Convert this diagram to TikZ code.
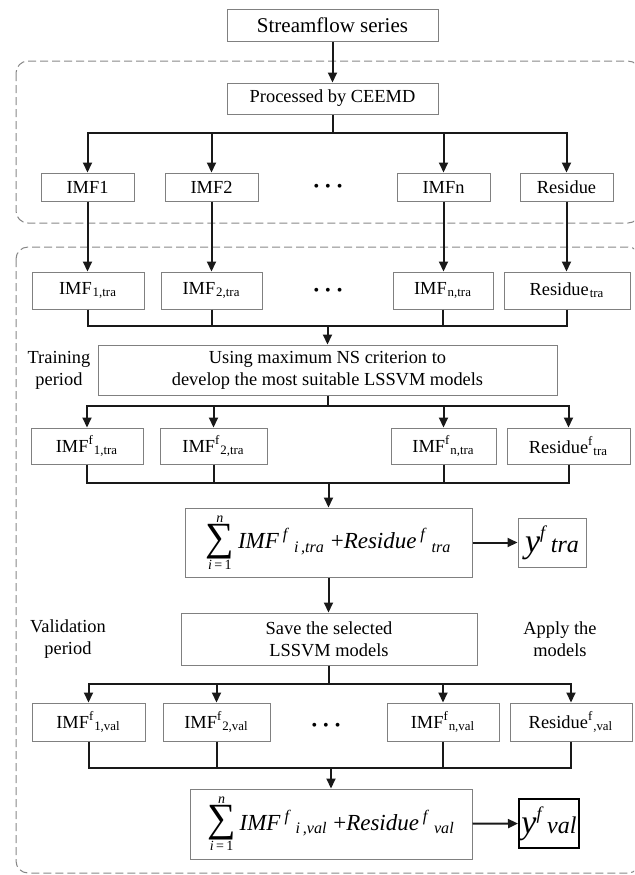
\documentclass[tikz,border=0pt]{standalone}
\usepackage{amsmath}
\usepackage{fontspec}
\setmainfont{Liberation Serif}
\usepackage{tikz}
\usetikzlibrary{arrows.meta,calc}

\definecolor{boxgray}{RGB}{128,128,128}
\definecolor{dashgray}{RGB}{135,135,135}
\definecolor{linkblack}{RGB}{25,25,25}

\newcommand{\imfsub}[3]{#1\textsuperscript{#2}\textsubscript{#3}}
\newcommand{\bigsum}{$\vcenter{\offinterlineskip\halign{\hfil##\hfil\cr
  {\fontsize{7}{8}\selectfont\textit{n}}\cr\noalign{\kern0.8pt}
  {\fontsize{20}{20}\selectfont ∑}\cr\noalign{\kern0.8pt}
  {\fontsize{7}{8}\selectfont\textit{i}\,=\,1}\cr}}$}
\newcommand{\sumterm}[1]{\bigsum\,\textit{IMF}\,\textsuperscript{\textit{f}}\,\textsubscript{\textit{i\,,#1}}\ +\textit{Residue}\,\textsuperscript{\textit{f}}\,\textsubscript{\textit{#1}}}
\newcommand{\yterm}[1]{\textit{\fontsize{17}{17}\selectfont y\raisebox{0.42em}{\fontsize{9}{9}\selectfont f}\,{\fontsize{12}{12}\selectfont #1}}}

\begin{document}
\begin{tikzpicture}[x=0.5pt, y=-0.5pt,
    box/.style     = {draw=boxgray, line width=0.5pt, inner sep=1pt, font=\fontsize{9.2}{11}\selectfont},
    rowbox/.style  = {box, minimum width=46.5pt, minimum height=14pt},
    trabox/.style  = {box, minimum height=18.5pt},
    ftrabox/.style = {box, minimum height=18pt},
    valbox/.style  = {box, minimum height=19pt},
    sumbox/.style  = {box, minimum height=34.5pt, font=\fontsize{11.5}{13}\selectfont},
    dots/.style    = {font=\fontsize{8}{8}\selectfont},
    side/.style    = {font=\fontsize{9.2}{11}\selectfont},
    link/.style    = {draw=linkblack, line width=1pt},
    arr/.style     = {link, -{Triangle[length=5pt,width=4.5pt]}},
    region/.style  = {draw=dashgray, line width=0.5pt, dash pattern=on 4pt off 2pt, rounded corners=6pt}]
  \tikzset{every node/.style={anchor=center, align=center}}
  \useasboundingbox (0,0) rectangle (634,875);
  \clip (0,0) rectangle (634,875);

  \draw[region] (16,61) rectangle (640,223);
  \draw[region] (16,247) rectangle (640,873);

  \node[box, font=\fontsize{10.5}{12}\selectfont, minimum width=105.5pt, minimum height=16pt] (stream) at (332.5,25) {Streamflow series};
  \node[box, minimum width=105.5pt, minimum height=15.5pt] (ceemd) at (332.5,98.5) {Processed by CEEMD};

  \node[rowbox] (imf1) at (87.5,187) {IMF1};
  \node[rowbox] (imf2) at (211.5,187) {IMF2};
  \node[dots] (dotsa) at (328,188) {\textbullet\hspace{3pt}\textbullet\hspace{3pt}\textbullet};
  \node[rowbox] (imfn) at (443.5,187) {IMFn};
  \node[rowbox] (res) at (566.5,187) {Residue};

  \node[trabox, minimum width=56pt] (tra1) at (88,290.5) {\imfsub{IMF}{}{1,tra}};
  \node[trabox, minimum width=50.5pt] (tra2) at (211.5,290.5) {\imfsub{IMF}{}{2,tra}};
  \node[dots] (dotsb) at (328,292) {\textbullet\hspace{3pt}\textbullet\hspace{3pt}\textbullet};
  \node[trabox, minimum width=50pt] (tran) at (443,290.5) {\imfsub{IMF}{}{n,tra}};
  \node[trabox, minimum width=63pt] (trares) at (567,290.5) {\imfsub{Residue}{}{tra}};

  \node[side] (train) at (59,370) {Training\\period};
  \node[box, minimum width=229.5pt, minimum height=25pt] (using) at (327.5,370)
    {Using maximum NS criterion to\\develop the most suitable LSSVM models};

  \node[ftrabox, minimum width=56pt] (ftra1) at (87,446) {\imfsub{IMF}{f}{1,tra}};
  \node[ftrabox, minimum width=53.5pt] (ftra2) at (213.5,446) {\imfsub{IMF}{f}{2,tra}};
  \node[ftrabox, minimum width=52.5pt] (ftran) at (443.5,446) {\imfsub{IMF}{f}{n,tra}};
  \node[ftrabox, minimum width=61.5pt] (ftrares) at (568.5,446) {\imfsub{Residue}{f}{tra}};

  \node[sumbox, minimum width=143.5pt] (sumtra) at (328.5,542.5) {\sumterm{tra}};
  \node[box, minimum width=34pt, minimum height=24.5pt, inner sep=0pt] (ytra) at (552,542.5) {\yterm{tra}};

  \node[side] (valid) at (68,639) {Validation\\period};
  \node[box, minimum width=148pt, minimum height=26pt] (save) at (329,639) {Save the selected\\LSSVM models};
  \node[side] (apply) at (560,639) {Apply the\\models};

  \node[valbox, minimum width=56.5pt] (fval1) at (88.5,722) {\imfsub{IMF}{f}{1,val}};
  \node[valbox, minimum width=53.5pt] (fval2) at (216.5,722) {\imfsub{IMF}{f}{2,val}};
  \node[dots] (dotsc) at (326,727) {\textbullet\hspace{3pt}\textbullet\hspace{3pt}\textbullet};
  \node[valbox, minimum width=56pt] (fvaln) at (443,722) {\imfsub{IMF}{f}{n,val}};
  \node[valbox, minimum width=61pt] (fvalres) at (571,722) {\imfsub{Residue}{f}{,val}};

  \node[sumbox, minimum width=141pt, minimum height=35pt] (sumval) at (331,824) {\sumterm{val}};
  \node[box, draw=black, line width=1pt, minimum width=30pt, minimum height=24.5pt, inner sep=0pt] (yval) at (549,823.5) {\yterm{val}};

  \coordinate (b1) at (ceemd.south |- 0,133);
  \coordinate (m1) at (using.north |- 0,326);
  \coordinate (b2) at (using.south |- 0,406);
  \coordinate (m2) at (sumtra.north |- 0,483);
  \coordinate (b3) at (save.south |- 0,684);
  \coordinate (m3) at (sumval.north |- 0,768);

  \path
    (stream) edge [arr] (ceemd)
    (ceemd) edge [link] (b1)
    (imf1) edge [arr] (imf1 |- tra1.north)
    (imf2) edge [arr] (imf2 |- tra2.north)
    (imfn) edge [arr] (imfn |- tran.north)
    (res) edge [arr] (res |- trares.north)
    (m1) edge [arr] (using)
    (using) edge [link] (b2)
    (m2) edge [arr] (sumtra)
    (sumtra) edge [arr] (ytra)
    (sumtra.south) edge [arr] (sumtra.south |- save.north)
    (save) edge [link] (b3)
    (m3) edge [arr] (sumval)
    (sumval) edge [arr] (yval);

  \foreach \n in {imf1,imf2,imfn,res}
    \draw[arr] (b1) -| (\n.north);
  \foreach \n in {tra1,tra2,tran,trares}
    \draw[link] (\n.south) |- (m1);
  \foreach \n in {ftra1,ftra2,ftran,ftrares}
    \draw[arr] (b2) -| (\n.north);
  \foreach \n in {ftra1,ftra2,ftran,ftrares}
    \draw[link] (\n.south) |- (m2);
  \foreach \n in {fval1,fval2,fvaln,fvalres}
    \draw[arr] (b3) -| (\n.north);
  \foreach \n in {fval1,fval2,fvaln,fvalres}
    \draw[link] (\n.south) |- (m3);
\end{tikzpicture}
\end{document}
